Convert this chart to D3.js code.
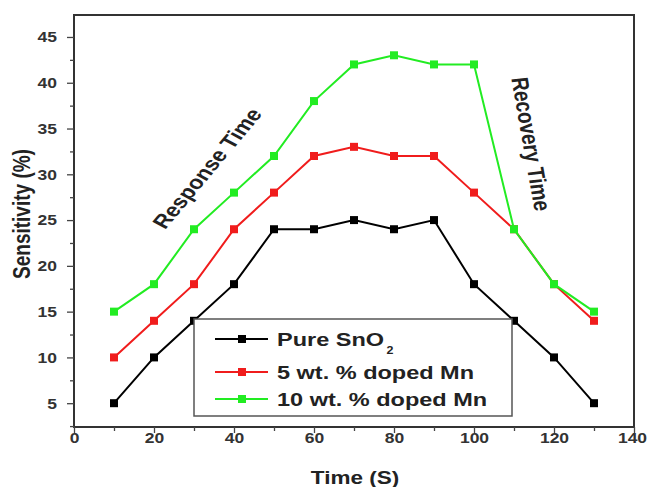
<!DOCTYPE html>
<html>
<head>
<meta charset="utf-8">
<script src="https://cdn.jsdelivr.net/npm/d3@7"></script>
<style>
  body { margin: 0; background: #fff; }
  text { font-family: "Liberation Sans", Arial, sans-serif; font-weight: bold; }
</style>
</head>
<body>
<script>
// data
var times      = [10, 20, 30, 40, 50, 60, 70, 80, 90, 100, 110, 120, 130];
var pure_sno2  = [5, 10, 14, 18, 24, 24, 25, 24, 25, 18, 14, 10, 5];
var doped_5mn  = [10, 14, 18, 24, 28, 32, 33, 32, 32, 28, 24, 18, 14];
var doped_10mn = [15, 18, 24, 28, 32, 38, 42, 43, 42, 42, 24, 18, 15];
var series_names  = ["Pure SnO", "5 wt. % doped Mn", "10 wt. % doped Mn"];
var series_colors = ["#000000", "#f01c1c", "#22ec22"];
var x_ticks = [0, 20, 40, 60, 80, 100, 120, 140];
var y_ticks = [5, 10, 15, 20, 25, 30, 35, 40, 45];

var width = 647, height = 487;
// plot area (note: "top" is reserved on window, so use plot_*)
var plot_left = 74, plot_right = 634, plot_top = 15, plot_bottom = 427;
// the original figure is stretched sideways, text included
var sx = 1.25;

var svg = d3.select("body").append("svg")
    .attr("width", width)
    .attr("height", height);

var x = d3.scaleLinear().domain([0, 140]).range([plot_left, plot_right]);
var y = d3.scaleLinear().domain([2.4, 47.4]).range([plot_bottom, plot_top]);

// frame
svg.append("rect")
    .attr("x", plot_left).attr("y", plot_top)
    .attr("width", plot_right - plot_left).attr("height", plot_bottom - plot_top)
    .attr("fill", "none").attr("stroke", "#333").attr("stroke-width", 2);

// x axis, major + minor ticks
var xAxis = svg.append("g").attr("transform", "translate(0," + plot_bottom + ")");
xAxis.call(d3.axisBottom(x).tickValues(x_ticks).tickSize(6).tickSizeOuter(0));
svg.append("g").attr("transform", "translate(0," + plot_bottom + ")")
    .call(d3.axisBottom(x).tickValues(d3.range(10, 140, 20)).tickSize(4).tickFormat(""));

// y axis
var yAxis = svg.append("g").attr("transform", "translate(" + plot_left + ",0)");
yAxis.call(d3.axisLeft(y).tickValues(y_ticks).tickSize(7).tickSizeOuter(0));
svg.append("g").attr("transform", "translate(" + plot_left + ",0)")
    .call(d3.axisLeft(y).tickValues([2.5, 7.5, 12.5, 17.5, 22.5, 27.5, 32.5, 37.5, 42.5])
    .tickSize(4).tickFormat(""));

svg.selectAll(".domain").remove();
svg.selectAll(".tick line").attr("stroke", "#444").attr("stroke-width", 1.3);
xAxis.selectAll("text")
    .attr("font-size", 14).attr("fill", "#333")
    .attr("y", 16).attr("dy", 0)
    .attr("x", function (d) { return d == 140 ? -2 / sx : 0; })
    .attr("transform", "scale(" + sx + ",1)");
yAxis.selectAll("text")
    .attr("font-size", 14).attr("fill", "#333")
    .attr("x", -17 / sx).attr("dy", "0.35em")
    .attr("transform", "scale(" + sx + ",1)");

// axis titles
svg.append("text")
    .attr("transform", "translate(355,484) scale(" + sx + ",1)")
    .attr("text-anchor", "middle")
    .attr("font-size", 18).attr("fill", "#222")
    .text("Time (S)");
svg.append("text")
    .attr("transform", "translate(30,214) scale(" + sx + ",1) rotate(-90)")
    .attr("text-anchor", "middle")
    .attr("font-size", 19).attr("fill", "#222")
    .text("Sensitivity (%)");

// series
var all_series = [pure_sno2, doped_5mn, doped_10mn];
var line = d3.line()
    .x(function (d, i) { return x(times[i]); })
    .y(function (d) { return y(d); });

all_series.forEach(function (values, k) {
    svg.append("path")
        .datum(values)
        .attr("d", line)
        .attr("fill", "none")
        .attr("stroke", series_colors[k])
        .attr("stroke-width", 2);
    svg.selectAll(".pt" + k)
        .data(values)
        .enter().append("rect")
        .attr("x", function (d, i) { return x(times[i]) - 4; })
        .attr("y", function (d) { return y(d) - 4; })
        .attr("width", 8).attr("height", 8)
        .attr("fill", series_colors[k]);
});

// annotations
svg.append("text")
    .attr("transform", "translate(214,172) scale(" + sx + ",1) rotate(-56)")
    .attr("text-anchor", "middle")
    .attr("font-size", 19).attr("fill", "#222")
    .text("Response Time");
svg.append("text")
    .attr("transform", "translate(523,145) scale(" + sx + ",1) rotate(82)")
    .attr("text-anchor", "middle")
    .attr("font-size", 19).attr("fill", "#222")
    .text("Recovery Time");

// legend
var lg = svg.append("g");
lg.append("rect")
    .attr("x", 194).attr("y", 319)
    .attr("width", 318).attr("height", 97)
    .attr("fill", "#fff").attr("stroke", "#555").attr("stroke-width", 1.5);

var legend_rows = [339, 372, 399];
series_names.forEach(function (name, k) {
    var ly = legend_rows[k];
    lg.append("line")
        .attr("x1", 215).attr("x2", 268)
        .attr("y1", ly).attr("y2", ly)
        .attr("stroke", series_colors[k]).attr("stroke-width", 2);
    lg.append("rect")
        .attr("x", 238).attr("y", ly - 4)
        .attr("width", 8).attr("height", 8)
        .attr("fill", series_colors[k]);
    var t = lg.append("text")
        .attr("transform", "translate(277," + (ly + 6.5) + ") scale(" + sx + ",1)")
        .attr("font-size", 18.8).attr("fill", "#222")
        .text(name);
    if (k == 0) {
        t.append("tspan").attr("font-size", 10).attr("dx", 2).attr("dy", 8).text("2");
    }
});
</script>
</body>
</html>
